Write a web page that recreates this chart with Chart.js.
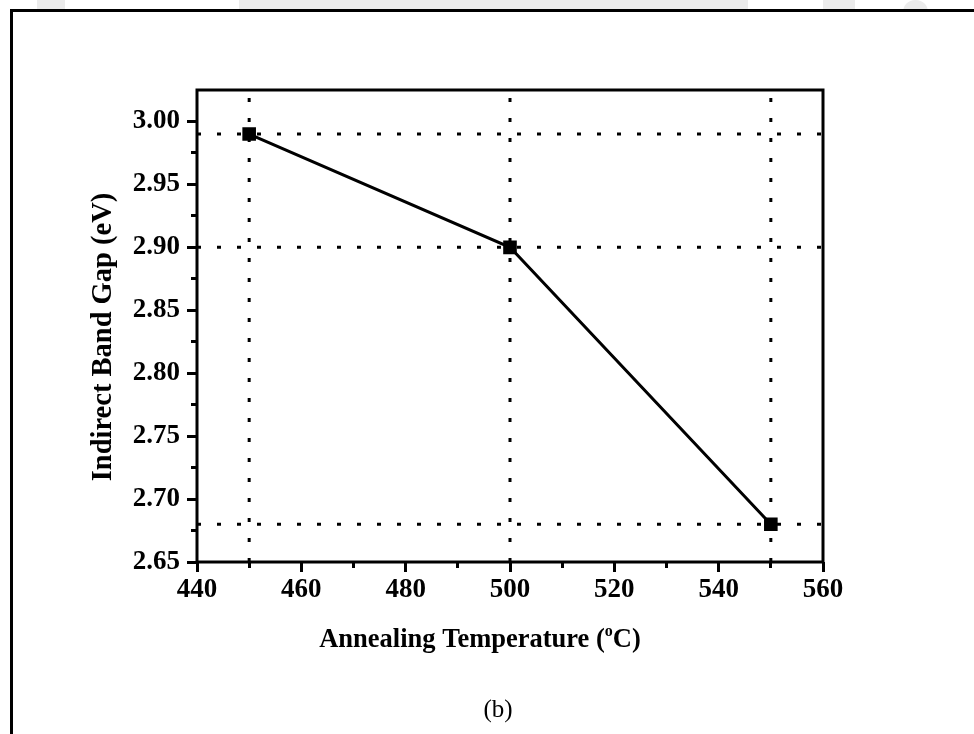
<!DOCTYPE html>
<html>
<head>
<meta charset="utf-8">
<script src="https://cdn.jsdelivr.net/npm/chart.js@4.4.0/dist/chart.umd.min.js"></script>
<style>
  body { margin: 0; background: #fff; }
  #wrap { position: relative; width: 974px; height: 734px; overflow: hidden; background: #fff; }
  .smudge { position: absolute; top: 0; height: 12px; background: #ebebeb; border-radius: 0 0 4px 4px; }
  .frame { position: absolute; left: 10px; top: 9px; width: 1000px; height: 800px;
           border-left: 3px solid #000; border-top: 3px solid #000; }
  canvas { position: absolute; left: 0; top: 0; }
</style>
</head>
<body>
<div id="wrap">
  <div class="smudge" style="left:37px;width:28px"></div>
  <div class="smudge" style="left:239px;width:509px"></div>
  <div class="smudge" style="left:823px;width:32px"></div>
  <div class="smudge" style="left:903px;width:25px;border-radius:12px 12px 0 0"></div>
  <div class="frame"></div>
  <canvas id="chart" width="974" height="734"></canvas>
</div>
<script>
// values
const temperatures = [450, 500, 550];
const bandGaps = [2.99, 2.90, 2.68];
const xTicks = [440, 460, 480, 500, 520, 540, 560];
const xMinorTicks = [440, 450, 460, 470, 480, 490, 500, 510, 520, 530, 540, 550, 560];
const yTicks = [2.65, 2.70, 2.75, 2.80, 2.85, 2.90, 2.95, 3.00];
const yMinorTicks = [2.65, 2.675, 2.70, 2.725, 2.75, 2.775, 2.80, 2.825, 2.85, 2.875, 2.90, 2.925, 2.95, 2.975, 3.00];
const X_MIN = 440, X_MAX = 560;
const Y_MIN = 2.65, Y_MAX = 3.025;

const SERIF = '"Liberation Serif", "Times New Roman", serif';
const DOTS = [4, 16];

function toTicks(values) {
  return values.map((v) => ({ value: v }));
}

const dropLines = temperatures.map((t) => ({
  data: [{ x: t, y: Y_MIN }, { x: t, y: Y_MAX }],
  borderColor: "#000",
  borderWidth: 3,
  borderDash: DOTS,
  pointRadius: 0,
  showLine: true,
  order: 2,
}));

const levelLines = bandGaps.map((g) => ({
  data: [{ x: X_MIN, y: g }, { x: X_MAX, y: g }],
  borderColor: "#000",
  borderWidth: 3,
  borderDash: DOTS,
  pointRadius: 0,
  showLine: true,
  order: 2,
}));

const mainSeries = {
  label: "Indirect Band Gap",
  data: temperatures.map((t, i) => ({ x: t, y: bandGaps[i] })),
  borderColor: "#000",
  backgroundColor: "#000",
  borderWidth: 3,
  pointStyle: "rect",
  pointRadius: 7.5,
  pointHoverRadius: 7.5,
  showLine: true,
  order: 0,
};

// box around the plot area (top and right sides have no ticks)
const plotFrame = {
  id: "plotFrame",
  afterDatasetsDraw(chart) {
    const { ctx, chartArea: a } = chart;
    ctx.save();
    ctx.strokeStyle = "#000";
    ctx.lineWidth = 3;
    ctx.strokeRect(a.left, a.top, a.right - a.left, a.bottom - a.top);
    ctx.restore();
  },
};

// axis titles (x one has a superscript "o") and the "(b)" caption
const figureText = {
  id: "figureText",
  afterDraw(chart) {
    const ctx = chart.ctx;
    ctx.save();
    ctx.fillStyle = "#000";

    // y title, rotated
    ctx.save();
    ctx.translate(104, 337);
    ctx.rotate(-Math.PI / 2);
    ctx.font = "bold 28.5px " + SERIF;
    ctx.textAlign = "center";
    ctx.textBaseline = "middle";
    ctx.fillText("Indirect Band Gap (eV)", 0, 0);
    ctx.restore();

    ctx.textBaseline = "alphabetic";
    ctx.textAlign = "left";
    const big = "bold 26.5px " + SERIF;
    const small = "bold 16px " + SERIF;
    const parts = [
      ["Annealing Temperature (", big, 0],
      ["o", small, -11],
      ["C)", big, 0],
    ];
    let total = 0;
    parts.forEach((p) => {
      ctx.font = p[1];
      total += ctx.measureText(p[0]).width;
    });
    let x = 480 - total / 2;
    parts.forEach((p) => {
      ctx.font = p[1];
      ctx.fillText(p[0], x, 647 + p[2]);
      x += ctx.measureText(p[0]).width;
    });

    ctx.font = "25px " + SERIF;
    ctx.textAlign = "center";
    ctx.fillText("(b)", 498, 717);
    ctx.restore();
  },
};

const majorGrid = {
  display: true,
  drawOnChartArea: false,
  drawTicks: true,
  tickLength: 10,
  tickWidth: 3,
  tickColor: "#000",
};

const minorGrid = {
  display: true,
  drawOnChartArea: false,
  drawTicks: true,
  tickLength: 6,
  tickWidth: 3,
  tickColor: "#000",
};

new Chart(document.getElementById("chart"), {
  type: "scatter",
  data: {
    datasets: [mainSeries, ...dropLines, ...levelLines],
  },
  options: {
    responsive: false,
    animation: false,
    devicePixelRatio: 1,
    layout: {
      padding: { left: 80, top: 90, right: 151, bottom: 72 },
    },
    plugins: {
      legend: { display: false },
      tooltip: { enabled: false },
    },
    scales: {
      x: {
        type: "linear",
        position: "bottom",
        weight: 1,
        min: X_MIN,
        max: X_MAX,
        afterBuildTicks: (s) => { s.ticks = toTicks(xTicks); },
        afterFit: (s) => { s.height = 100; },
        border: { display: false },
        grid: majorGrid,
        ticks: {
          color: "#000",
          padding: 2,
          maxRotation: 0,
          font: { family: SERIF, size: 27, weight: "bold" },
          callback: (v) => String(v),
        },
      },
      xMinor: {
        type: "linear",
        position: "bottom",
        weight: 0,
        min: X_MIN,
        max: X_MAX,
        afterBuildTicks: (s) => { s.ticks = toTicks(xMinorTicks); },
        afterFit: (s) => { s.height = 0; },
        border: { display: false },
        grid: minorGrid,
        ticks: { display: false },
      },
      y: {
        type: "linear",
        position: "left",
        weight: 1,
        min: Y_MIN,
        max: Y_MAX,
        afterBuildTicks: (s) => { s.ticks = toTicks(yTicks); },
        afterFit: (s) => { s.width = 117; },
        border: { display: false },
        grid: majorGrid,
        ticks: {
          color: "#000",
          padding: 7,
          font: { family: SERIF, size: 27, weight: "bold" },
          callback: (v) => v.toFixed(2),
        },
      },
      yMinor: {
        type: "linear",
        position: "left",
        weight: 0,
        min: Y_MIN,
        max: Y_MAX,
        afterBuildTicks: (s) => { s.ticks = toTicks(yMinorTicks); },
        afterFit: (s) => { s.width = 0; },
        border: { display: false },
        grid: minorGrid,
        ticks: { display: false },
      },
    },
  },
  plugins: [plotFrame, figureText],
});
</script>
</body>
</html>
